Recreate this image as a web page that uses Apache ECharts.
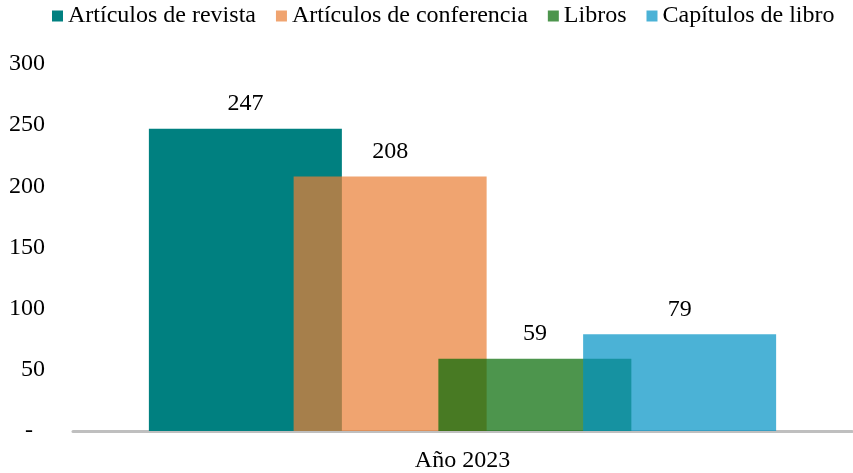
<!DOCTYPE html>
<html>
<head>
<meta charset="utf-8">
<script src="https://cdn.jsdelivr.net/npm/echarts@6/dist/echarts.min.js"></script>
<style>
  html, body { margin: 0; padding: 0; background: #fff; }
  #main { width: 853px; height: 473px; }
</style>
</head>
<body>
<div id="main"></div>
<script>
var categories = ['Año 2023'];
var seriesNames = ['Artículos de revista', 'Artículos de conferencia', 'Libros', 'Capítulos de libro'];
var revista = [247];
var conferencia = [208];
var libros = [59];
var capitulos = [79];
var yTicks = [0, 50, 100, 150, 200, 250, 300];

var serif = "'Liberation Serif', 'Times New Roman', serif";
// later bars are semi-transparent so the overlaps show through
var colors = ['#008080', 'rgba(234,127,54,0.71)', 'rgba(4,106,4,0.71)', 'rgba(1,146,197,0.71)'];
var values = [revista, conferencia, libros, capitulos];

var series = [];
for (var i = 0; i < seriesNames.length; i++) {
    series.push({
        name: seriesNames[i],
        type: 'bar',
        data: values[i],
        barWidth: 193,
        barGap: '-25%',
        itemStyle: { color: colors[i] },
        label: {
            show: true,
            position: 'top',
            distance: 13,
            color: '#000',
            fontFamily: serif,
            fontSize: 24
        }
    });
}

var option = {
    animation: false,
    legend: {
        top: -1,
        left: 47,
        icon: 'rect',
        itemWidth: 11,
        itemHeight: 11,
        itemGap: 20,
        textStyle: { fontFamily: serif, fontSize: 24, color: '#000' },
        data: seriesNames
    },
    grid: { left: 73, right: 1, top: 64, bottom: 42 },
    xAxis: {
        type: 'category',
        data: categories,
        axisLine: { lineStyle: { color: '#BFBFBF', width: 3 } },
        axisTick: { show: false },
        axisLabel: { margin: 18, color: '#000', fontFamily: serif, fontSize: 24 }
    },
    yAxis: {
        type: 'value',
        min: yTicks[0],
        max: yTicks[yTicks.length - 1],
        interval: 50,
        splitLine: { show: false },
        axisLine: { show: false },
        axisTick: { show: false },
        axisLabel: {
            margin: 28,
            color: '#000',
            fontFamily: serif,
            fontSize: 24,
            formatter: function (v) { return v === 0 ? '-  ' : v; }
        }
    },
    series: series
};

var myChart = echarts.init(document.getElementById('main'));
myChart.setOption(option);
</script>
</body>
</html>
